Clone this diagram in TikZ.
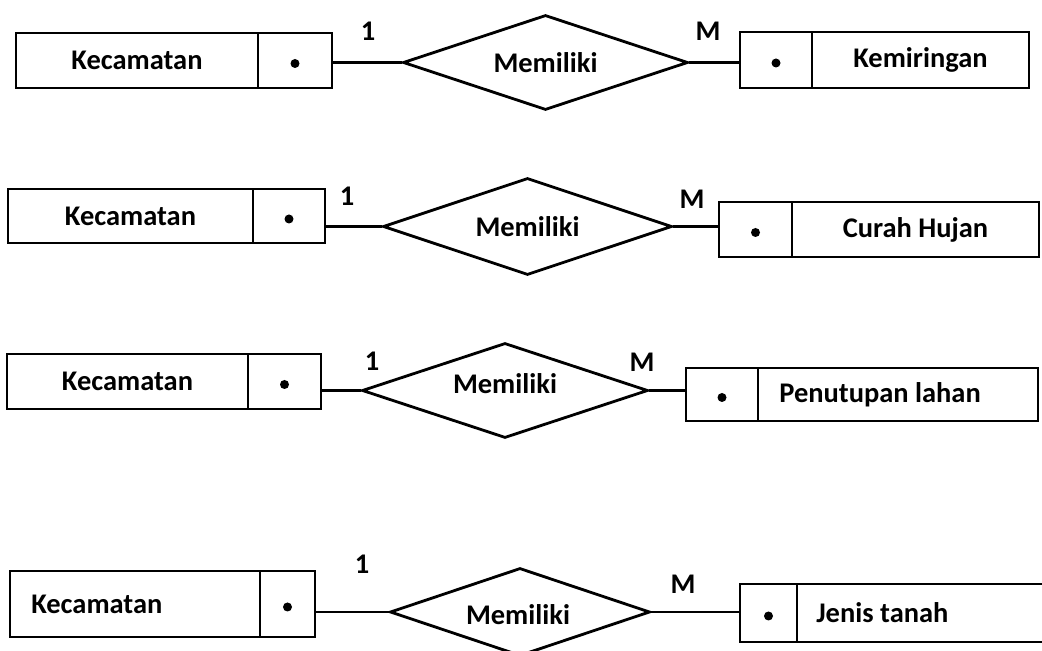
\documentclass[tikz,border=0pt]{standalone}
\usepackage{fontspec}
\setmainfont{Carlito}
\usetikzlibrary{shapes.geometric}
\tikzset{
  cell/.style={draw, line width=1.2pt, rectangle, inner sep=0pt, minimum height=#1},
  rel/.style={draw, diamond, line width=1.6pt, inner sep=0pt},
  conn/.style={line width=1.2pt},
  card/.style={inner sep=0pt},
  lefttext/.style={anchor=west, inner sep=0pt}
}
\newcommand\dotin[1]{\fill ([yshift=-0.06cm]#1.center) circle (0.09cm);}
\begin{document}
\begin{tikzpicture}[x=0.02cm, y=-0.02cm, font=\fontsize{16.2pt}{19pt}\selectfont\bfseries]
\clip (0,0) rectangle (1042,651);
\fill[white] (0,0) rectangle (1042,651);

% Row 1
\node[cell=1.10cm, minimum width=4.84cm] (k1) at (137,60.5) {Kecamatan};
\node[cell=1.10cm, minimum width=1.48cm] (k1d) at (295,60.5) {};
\node[rel, minimum width=5.70cm, minimum height=1.90cm] (d1) at (545.5,62.5) {};
\node (d1t) at (d1) {Memiliki};
\node[cell=1.12cm, minimum width=1.44cm] (e1d) at (776,60) {};
\node[cell=1.12cm, minimum width=4.34cm] (e1) at (920.5,60) {Kemiringan};
\dotin{k1d}\dotin{e1d}
\draw[conn] (d1.west) -- (d1.west -| k1d.east);
\draw[conn] (d1.east) -- (d1.east -| e1d.west);
\node[card] (c1a) at (368,31) {1};
\node[card] (c1b) at (708,31) {M};

% Row 2
\node[cell=1.08cm, minimum width=4.90cm] (k2) at (130.5,216) {Kecamatan};
\node[cell=1.08cm, minimum width=1.44cm] (k2d) at (289,216) {};
\node[rel, minimum width=5.78cm, minimum height=1.94cm] (d2) at (527.5,226.5) {};
\node (d2t) at (d2) {Memiliki};
\node[cell=1.10cm, minimum width=1.46cm] (e2d) at (755.5,229.5) {};
\node[cell=1.10cm, minimum width=4.94cm] (e2) at (915.5,229.5) {Curah Hujan};
\dotin{k2d}\dotin{e2d}
\draw[conn] (d2.west) -- (d2.west -| k2d.east);
\draw[conn] (d2.east) -- (d2.east -| e2d.west);
\node[card] (c2a) at (347,196) {1};
\node[card] (c2b) at (692,199) {M};

% Row 3
\node[cell=1.10cm, minimum width=4.82cm] (k3) at (127.5,381.5) {Kecamatan};
\node[cell=1.10cm, minimum width=1.46cm] (k3d) at (284.5,381.5) {};
\node[rel, minimum width=5.72cm, minimum height=1.90cm] (d3) at (505,390.5) {};
\node (d3t) at (505,384) {Memiliki};
\node[cell=1.06cm, minimum width=1.44cm] (e3d) at (722,394.5) {};
\node[cell=1.06cm, minimum width=5.60cm] (e3) at (898,394.5) {};
\node[lefttext] (e3t) at ([xshift=0.44cm]e3.west) {Penutupan lahan};
\dotin{k3d}\dotin{e3d}
\draw[conn] (d3.west) -- (d3.west -| k3d.east);
\draw[conn] (d3.east) -- (d3.east -| e3d.west);
\node[card] (c3a) at (372,361) {1};
\node[card] (c3b) at (642,362) {M};

% Row 4
\node[cell=1.32cm, minimum width=5.00cm] (k4) at (135,604) {};
\node[lefttext] (k4t) at ([xshift=0.44cm]k4.west) {Kecamatan};
\node[cell=1.32cm, minimum width=1.10cm] (k4d) at (287.5,604) {};
\node[rel, minimum width=5.20cm, minimum height=1.76cm] (d4) at (520,612) {};
\node (d4t) at (518,615) {Memiliki};
\node[cell=1.16cm, minimum width=1.14cm] (e4d) at (768.5,613) {};
\node[cell=1.16cm, minimum width=5.66cm] (e4) at (938.5,613) {};
\node[lefttext] (e4t) at ([xshift=0.40cm]e4.west) {Jenis tanah};
\dotin{k4d}\dotin{e4d}
\draw[conn] (d4.west) -- (d4.west -| k4d.east);
\draw[conn] (d4.east) -- (d4.east -| e4d.west);
\node[card] (c4a) at (362,564) {1};
\node[card] (c4b) at (683,584) {M};
\end{tikzpicture}
\end{document}
